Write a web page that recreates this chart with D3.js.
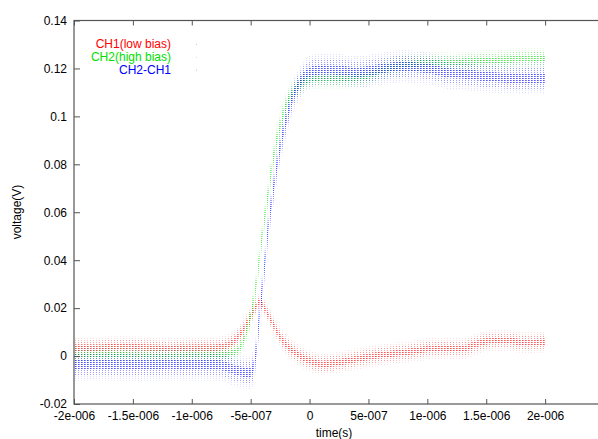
<!DOCTYPE html>
<meta charset="utf-8">
<style>
  html, body { margin: 0; background: #fff; }
  text { font-family: "Liberation Sans", Arial, sans-serif; font-size: 12px; fill: #000; }
</style>
<body>
<script src="https://cdnjs.cloudflare.com/ajax/libs/d3/7.8.5/d3.min.js"></script>
<script>
// sample times (seconds)
var times = [-20e-7,-18e-7,-16e-7,-14e-7,-12e-7,-10e-7,-8e-7,
  -7e-7,-6.5e-7,-6e-7,-5.5e-7,-5e-7,
  -4.75e-7,-4.5e-7,-4.25e-7,-4e-7,
  -3.75e-7,-3.5e-7,-3.25e-7,-3e-7,
  -2.75e-7,-2.5e-7,-2e-7,-1.5e-7,-1e-7,-0.5e-7,0,
  1e-7,2e-7,3e-7,4e-7,5e-7,6e-7,7e-7,8e-7,9e-7,10e-7,
  11e-7,12e-7,13e-7,14e-7,15e-7,16e-7,17e-7,18e-7,19e-7,20e-7];

// CH1 (low bias): centre of the noise band and its half width (V)
var ch1 = [0.0035,0.0035,0.0038,0.0036,0.0033,0.0035,0.0035,
  0.0045,0.006,0.0085,0.012,0.0165,
  0.019,0.021,0.0225,0.0215,
  0.0195,0.017,0.0148,0.0125,
  0.0102,0.008,0.0048,0.0025,0.0008,-0.0008,-0.002,
  -0.0033,-0.003,-0.0022,-0.0012,-0.0003,0.0004,0.001,0.0015,0.0022,0.003,
  0.0033,0.003,0.003,0.0048,0.0062,0.0066,0.0064,0.0058,0.0058,0.006];
var ch1Spread = [0.003,0.003,0.003,0.003,0.003,0.003,0.003,
  0.003,0.003,0.003,0.003,0.0028,
  0.0026,0.0025,0.0025,0.0025,
  0.0025,0.0025,0.0025,0.0026,
  0.0027,0.0028,0.003,0.003,0.003,0.003,0.003,
  0.003,0.003,0.003,0.003,0.003,0.003,0.003,0.003,0.003,0.003,
  0.003,0.003,0.003,0.003,0.003,0.003,0.003,0.003,0.003,0.003];

// CH2 (high bias)
var ch2 = [0.0003,0.0004,0.0005,0.0003,0.0002,0.0004,0.0004,
  0.0008,0.0015,0.003,0.008,0.017,
  0.023,0.031,0.041,0.051,
  0.060,0.068,0.077,0.0845,
  0.091,0.096,0.1045,0.1095,0.1125,0.1145,0.1155,
  0.116,0.116,0.116,0.1162,0.117,0.119,0.1205,0.1215,0.122,0.1225,
  0.1225,0.1225,0.1228,0.123,0.1232,0.1235,0.1237,0.124,0.124,0.124];
var ch2Spread = [0.0025,0.0025,0.0025,0.0025,0.0025,0.0025,0.0025,
  0.0025,0.0025,0.0025,0.003,0.0035,
  0.004,0.004,0.004,0.004,
  0.004,0.004,0.004,0.004,
  0.004,0.004,0.004,0.0035,0.0035,0.0035,0.003,
  0.003,0.003,0.003,0.003,0.003,0.003,0.003,0.003,0.003,0.003,
  0.003,0.003,0.003,0.003,0.003,0.003,0.003,0.003,0.003,0.003];

// CH2-CH1
var diff = [-0.0035,-0.0033,-0.0035,-0.0037,-0.0033,-0.0035,-0.0036,
  -0.0045,-0.0055,-0.0062,-0.0068,-0.007,
  -0.004,0.003,0.017,0.029,
  0.041,0.054,0.063,0.072,
  0.080,0.087,0.098,0.107,0.1125,0.1165,0.1185,
  0.1195,0.1195,0.119,0.1185,0.119,0.1198,0.1205,0.121,0.1205,0.120,
  0.119,0.118,0.1178,0.1172,0.1167,0.1163,0.116,0.116,0.116,0.116];
var diffSpread = [0.0045,0.0045,0.0045,0.0045,0.0045,0.0045,0.0045,
  0.0045,0.0045,0.0045,0.0045,0.0045,
  0.005,0.005,0.005,0.005,
  0.005,0.005,0.005,0.005,
  0.005,0.005,0.005,0.0045,0.0045,0.0045,0.0045,
  0.0045,0.0045,0.0045,0.0045,0.0045,0.0045,0.0045,0.0045,0.0045,0.0045,
  0.0045,0.0045,0.0045,0.0045,0.0045,0.0045,0.0045,0.0045,0.0045,0.0045];

var seriesNames = ["CH1(low bias)", "CH2(high bias)", "CH2-CH1"];
var seriesColors = ["#ff0000", "#00e000", "#0000ff"];

var xTicks = [-2e-6,-1.5e-6,-1e-6,-5e-7,0,5e-7,1e-6,1.5e-6,2e-6];
var xTickLabels = ["-2e-006","-1.5e-006","-1e-006","-5e-007","0","5e-007","1e-006","1.5e-006","2e-006"];
var yTicks = [-0.02,0,0.02,0.04,0.06,0.08,0.1,0.12,0.14];
var yTickLabels = ["-0.02","0","0.02","0.04","0.06","0.08","0.1","0.12","0.14"];

var W = 598, H = 439;
var pLeft = 74, pRight = 604, pTop = 20.5, pBottom = 404;

var svg = d3.select("body").append("svg")
  .attr("width", W).attr("height", H);

var x = d3.scaleLinear().domain([-2e-6, 2.5e-6]).range([pLeft, pRight]);
var y = d3.scaleLinear().domain([-0.02, 0.14]).range([pBottom, pTop]);

// stipple patterns
var defs = svg.append("defs");
seriesColors.forEach(function (c, i) {
  var p = defs.append("pattern").attr("id", "dots" + i)
    .attr("patternUnits", "userSpaceOnUse").attr("width", 3).attr("height", 2);
  p.append("rect").attr("x", 0).attr("y", 0).attr("width", 1).attr("height", 1).attr("fill", c);
  var q = defs.append("pattern").attr("id", "lines" + i)
    .attr("patternUnits", "userSpaceOnUse").attr("width", 3).attr("height", 2);
  q.append("rect").attr("x", 0).attr("y", 0).attr("width", 2).attr("height", 1).attr("fill", c);
});

var plot = svg.append("g");
var series = [[ch1, ch1Spread], [ch2, ch2Spread], [diff, diffSpread]];

// band of the noisy trace: sparse halo, outer band, dense core
var layers = [[1.5, "dots", 0.12], [1.0, "dots", 0.3], [0.45, "lines", 0.45]];

series.forEach(function (s, i) {
  var vals = s[0], spr = s[1];
  layers.forEach(function (L) {
    var band = d3.area()
      .x(function (d, j) { return x(times[j]); })
      .y0(function (d, j) { return y(vals[j] - spr[j] * L[0]); })
      .y1(function (d, j) { return y(vals[j] + spr[j] * L[0]); })
      .curve(d3.curveMonotoneX);
    plot.append("path").datum(vals).attr("d", band)
      .attr("fill", "url(#" + L[1] + i + ")").attr("opacity", L[2]);
  });
});

// frame
svg.append("rect")
  .attr("x", pLeft).attr("y", pTop)
  .attr("width", pRight - pLeft).attr("height", pBottom - pTop)
  .attr("fill", "none").attr("stroke", "#555").attr("stroke-width", 1.2);

// axes with inward ticks on all sides
var gx = svg.append("g").attr("transform", "translate(0," + pBottom + ")")
  .call(d3.axisBottom(x).tickValues(xTicks).tickSizeInner(-5).tickSizeOuter(0)
    .tickFormat(function (d, i) { return xTickLabels[i]; }));
gx.selectAll("text").attr("y", 7).attr("dy", "0.71em");
var gxt = svg.append("g").attr("transform", "translate(0," + pTop + ")")
  .call(d3.axisTop(x).tickValues(xTicks).tickSizeInner(-5).tickSizeOuter(0).tickFormat(""));
var gy = svg.append("g").attr("transform", "translate(" + pLeft + ",0)")
  .call(d3.axisLeft(y).tickValues(yTicks).tickSizeInner(-6).tickSizeOuter(0)
    .tickFormat(function (d, i) { return yTickLabels[i]; }));
gy.selectAll("text").attr("x", -7);
var gyr = svg.append("g").attr("transform", "translate(" + pRight + ",0)")
  .call(d3.axisRight(y).tickValues(yTicks).tickSizeInner(-6).tickSizeOuter(0).tickFormat(""));

[gx, gxt, gy, gyr].forEach(function (g) {
  g.select(".domain").remove();
  g.selectAll("line").attr("stroke", "#555");
  g.selectAll("text").attr("fill", "#000")
    .style("font-family", "'Liberation Sans', Arial, sans-serif").style("font-size", "12px");
});

// axis titles
svg.append("text").attr("x", 334).attr("y", 437).attr("text-anchor", "middle").text("time(s)");
svg.append("text").attr("transform", "translate(21,212) rotate(-90)")
  .attr("text-anchor", "middle").text("voltage(V)");

// legend
var legendY = [48, 61, 73.5];
seriesNames.forEach(function (n, i) {
  svg.append("text").attr("x", 171).attr("y", legendY[i])
    .attr("text-anchor", "end").attr("fill", seriesColors[i])
    .style("fill", seriesColors[i]).text(n);
  svg.append("rect").attr("x", 196).attr("y", legendY[i] - 4)
    .attr("width", 1).attr("height", 1).attr("fill", seriesColors[i]).attr("opacity", 0.3);
});
</script>
</body>
